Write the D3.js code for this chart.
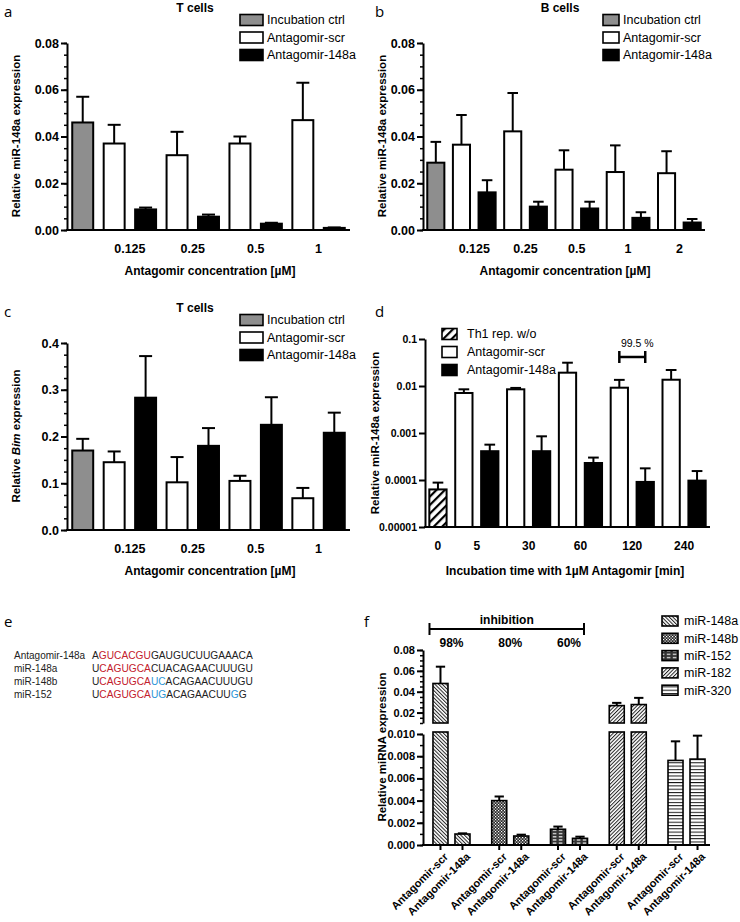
<!DOCTYPE html>
<html><head><meta charset="utf-8">
<script src="https://cdn.jsdelivr.net/npm/d3@7"></script>
<style>
body{margin:0;background:#fff;}
svg{display:block;font-family:"Liberation Sans",Arial,sans-serif;}
</style></head><body>
<svg id="chart" width="740" height="922"></svg>
<script>
// ---------- DATA ----------
const legendLabels = ["Incubation ctrl","Antagomir-scr","Antagomir-148a"];
const concT = ["0.125","0.25","0.5","1"];
const concB = ["0.125","0.25","0.5","1","2"];
// panel a (T cells, miR-148a)
const aCtrl = 0.046, aCtrlErr = 0.057;
const aScr = [0.037,0.032,0.037,0.047];
const aScrErr = [0.045,0.042,0.040,0.063];
const aAnt = [0.0088,0.0057,0.0027,0.0009];
const aAntErr = [0.0096,0.0066,0.0031,0.0011];
const abTicks = [0,0.02,0.04,0.06,0.08];
// panel b (B cells)
const bCtrl = 0.0288, bCtrlErr = 0.0377;
const bScr = [0.0365,0.0422,0.0258,0.0248,0.0243];
const bScrErr = [0.0492,0.0586,0.0341,0.0362,0.0337];
const bAnt = [0.0161,0.0100,0.0092,0.0052,0.0032];
const bAntErr = [0.0213,0.0121,0.0121,0.0076,0.0047];
// panel c (Bim)
const cCtrl = 0.17, cCtrlErr = 0.195;
const cScr = [0.145,0.102,0.105,0.068];
const cScrErr = [0.168,0.156,0.116,0.090];
const cAnt = [0.283,0.180,0.225,0.208];
const cAntErr = [0.372,0.218,0.284,0.251];
const cTicks = [0,0.1,0.2,0.3,0.4];
// panel d (time course, log)
const dLegend = ["Th1 rep. w/o","Antagomir-scr","Antagomir-148a"];
const dTimes = ["0","5","30","60","120","240"];
const dTh1 = 6.3e-5, dTh1Err = 8.8e-5;
const dScr = [0.0071,0.0085,0.0192,0.0092,0.0136];
const dScrErr = [0.0085,0.0091,0.0313,0.0135,0.0219];
const dAnt = [4.1e-4,4.1e-4,2.3e-4,9.1e-5,9.7e-5];
const dAntErr = [5.65e-4,8.5e-4,3.0e-4,1.77e-4,1.55e-4];
const dTicks = [0.00001,0.0001,0.001,0.01,0.1];
const dTickLabels = ["0.00001","0.0001","0.001","0.01","0.1"];
// panel e (sequences)
const eNames = ["Antagomir-148a","miR-148a","miR-148b","miR-152"];
const eSeqs = [
  [["A","k"],["GUCACGU","r"],["GAUGUCUUGAAACA","k"]],
  [["U","k"],["CAGUGCA","r"],["CUACAGAACUUUGU","k"]],
  [["U","k"],["CAGUGCA","r"],["UC","b"],["ACAGAACUUUGU","k"]],
  [["U","k"],["CAGUGCA","r"],["UG","b"],["ACAGAACUU","k"],["G","b"],["G","k"]]
];
// panel f (specificity, broken axis)
const fMirs = ["miR-148a","miR-148b","miR-152","miR-182","miR-320"];
const fTreat = ["Antagomir-scr","Antagomir-148a"];
const fScr = [0.0479,0.0040,0.00142,0.0267,0.00762];
const fScrErr = [0.064,0.00437,0.00166,0.0293,0.00934];
const fAnt = [0.00099,0.00081,0.00060,0.0277,0.00774];
const fAntErr = [0.00105,0.00093,0.00075,0.0341,0.00985];
const fInhib = ["98%","80%","60%"];
const fTicksLo = [0,0.002,0.004,0.006,0.008,0.010];
const fTicksHi = [0.02,0.04,0.06,0.08];

// ---------- DRAWING ----------
const svg = d3.select("#chart");
const defs = svg.append("defs");
const FONT = "Liberation Sans, Arial, sans-serif";
const GRAY = "#8e8e8e";

// patterns
function hatch(id, angle, gap, w, bg, fg){
  const p = defs.append("pattern").attr("id",id).attr("patternUnits","userSpaceOnUse")
    .attr("width",gap).attr("height",gap).attr("patternTransform",`rotate(${angle})`);
  p.append("rect").attr("width",gap).attr("height",gap).attr("fill",bg);
  p.append("rect").attr("width",w).attr("height",gap).attr("fill",fg);
}
hatch("pTh1",45,6,2.2,"#fff","#000");
hatch("p148a",-45,2.6,1,"#fff","#222");
hatch("p182",45,2.6,1,"#fff","#222");
(function(){
  const p = defs.append("pattern").attr("id","p148b").attr("patternUnits","userSpaceOnUse").attr("width",3).attr("height",3);
  p.append("rect").attr("width",3).attr("height",3).attr("fill","#2a2a2a");
  p.append("rect").attr("x",0).attr("y",0).attr("width",1.2).attr("height",1.2).attr("fill","#fff");
  p.append("rect").attr("x",1.5).attr("y",1.5).attr("width",1.2).attr("height",1.2).attr("fill","#fff");
  const q = defs.append("pattern").attr("id","p152").attr("patternUnits","userSpaceOnUse").attr("width",6).attr("height",3.2);
  q.append("rect").attr("width",6).attr("height",3.2).attr("fill","#333");
  q.append("rect").attr("x",0.8).attr("y",1).attr("width",3.6).attr("height",1.1).attr("fill","#fff");
  const r = defs.append("pattern").attr("id","p320").attr("patternUnits","userSpaceOnUse").attr("width",4).attr("height",3.3);
  r.append("rect").attr("width",4).attr("height",3.3).attr("fill","#fff");
  r.append("rect").attr("y",0).attr("width",4).attr("height",1).attr("fill","#111");
})();
const fPatterns = ["url(#p148a)","url(#p148b)","url(#p152)","url(#p182)","url(#p320)"];

function txt(x,y,s,opts={}){
  const t = svg.append("text").attr("x",x).attr("y",y).text(s)
    .attr("font-family",opts.family||FONT).attr("font-size",opts.size||12)
    .attr("font-weight",opts.weight||"normal").attr("text-anchor",opts.anchor||"middle")
    .attr("dy",opts.dy||"0.35em").attr("fill","#000");
  if(opts.rotate) t.attr("transform",`rotate(${opts.rotate},${x},${y})`);
  return t;
}
function panelLabel(x,y,s){ txt(x,y,s,{family:"Open Sans, DejaVu Sans, sans-serif",size:15,anchor:"start"}); }

function yAxis(y, x, major, fmt, minor, fs){
  const g = svg.append("g");
  if(minor){
    g.append("g").attr("transform",`translate(${x},0)`)
      .call(d3.axisLeft(y).tickValues(minor).tickSize(3).tickFormat(""))
      .call(s=>s.select(".domain").remove())
      .selectAll("line").attr("stroke","#000").attr("stroke-width",1.5);
  }
  const a = g.append("g").attr("transform",`translate(${x},0)`)
    .call(d3.axisLeft(y).tickValues(major).tickFormat(fmt).tickSize(6).tickSizeOuter(0).tickPadding(2));
  a.attr("font-family",FONT).attr("font-size",fs).attr("font-weight","bold");
  a.select(".domain").attr("stroke","#000").attr("stroke-width",2);
  a.selectAll(".tick line").attr("stroke","#000").attr("stroke-width",2);
  a.selectAll(".tick text").attr("fill","#000");
  return a;
}

function drawBar(x,w,y0,y1,fill,sw){
  svg.append("rect").attr("x",x).attr("y",Math.min(y0,y1)).attr("width",w).attr("height",Math.abs(y0-y1))
    .attr("fill",fill).attr("stroke","#000").attr("stroke-width",sw||2);
}
function drawErr(cx,yTop,yErr,cap){
  svg.append("line").attr("x1",cx).attr("x2",cx).attr("y1",yTop).attr("y2",yErr).attr("stroke","#000").attr("stroke-width",2);
  svg.append("line").attr("x1",cx-cap/2).attr("x2",cx+cap/2).attr("y1",yErr).attr("y2",yErr).attr("stroke","#000").attr("stroke-width",2);
}

function legend(x,y0,dy,sw,sh,fills,labels,tx){
  labels.forEach((l,i)=>{
    svg.append("rect").attr("x",x).attr("y",y0+i*dy-sh/2).attr("width",sw).attr("height",sh)
      .attr("fill",fills[i]).attr("stroke","#000").attr("stroke-width",1.6);
    txt(tx,y0+i*dy,l,{size:12.5,anchor:"start"});
  });
}

// generic grouped bar panel (a, b, c)
function barPanel(o){
  const bars = [{fill:GRAY,v:o.ctrl,e:o.ctrlErr}];
  o.labels.forEach((l,i)=>{
    bars.push({fill:"#fff",v:o.scr[i],e:o.scrErr[i]});
    bars.push({fill:"#000",v:o.ant[i],e:o.antErr[i]});
  });
  const x = d3.scaleBand().domain(d3.range(bars.length)).range([o.x0,o.x1]).paddingInner(1/3).paddingOuter(1/6);
  const y = d3.scaleLinear().domain(o.domain).range([o.yb,o.yt]);
  yAxis(y,o.x0,o.ticks,d3.format(o.fmt),d3.range(o.domain[0],o.domain[1]+1e-9,o.minor),o.fs);
  const bw = x.bandwidth();
  bars.forEach((b,i)=>{
    drawBar(x(i),bw,y(0),y(b.v),b.fill);
    drawErr(x(i)+bw/2,y(b.v),y(b.e),bw*0.62);
  });
  svg.append("line").attr("x1",o.x0-1).attr("x2",o.x1).attr("y1",y(0)).attr("y2",y(0)).attr("stroke","#000").attr("stroke-width",2);
  o.labels.forEach((l,i)=>{
    const cx = (x(1+2*i)+x(2+2*i)+bw)/2;
    txt(cx,o.yb+19,l,{size:o.fs,weight:"bold"});
  });
  txt(o.titleX,o.yb+41,"Antagomir concentration [µM]",{size:12,weight:"bold"});
  txt(o.cellX,o.cellY,o.cell,{size:12,weight:"bold"});
  legend(o.legX,o.legY,17.5,o.legW,11,[GRAY,"#fff","#000"],legendLabels,o.legX+o.legW+4);
  return {x,y};
}

// ---- panel a
panelLabel(4,12,"a");
barPanel({x0:67,x1:350,yb:230,yt:43,domain:[0,0.08],ticks:abTicks,fmt:".2f",minor:0.005,fs:12.5,
  ctrl:aCtrl,ctrlErr:aCtrlErr,scr:aScr,scrErr:aScrErr,ant:aAnt,antErr:aAntErr,labels:concT,
  titleX:210,cell:"T cells",cellX:195,cellY:8,legX:240,legY:20,legW:23});
txt(16,136,"Relative miR-148a expression",{size:11.5,weight:"bold",rotate:-90});

// ---- panel b
panelLabel(375,12,"b");
barPanel({x0:423,x1:705,yb:230,yt:43,domain:[0,0.08],ticks:abTicks,fmt:".2f",minor:0.005,fs:12.5,
  ctrl:bCtrl,ctrlErr:bCtrlErr,scr:bScr,scrErr:bScrErr,ant:bAnt,antErr:bAntErr,labels:concB,
  titleX:565,cell:"B cells",cellX:560,cellY:8,legX:603,legY:20,legW:16});
txt(382,136,"Relative miR-148a expression",{size:11.5,weight:"bold",rotate:-90});

// ---- panel c
panelLabel(4,312,"c");
barPanel({x0:67,x1:350,yb:530,yt:343,domain:[0,0.4],ticks:cTicks,fmt:".1f",minor:0.025,fs:12.5,
  ctrl:cCtrl,ctrlErr:cCtrlErr,scr:cScr,scrErr:cScrErr,ant:cAnt,antErr:cAntErr,labels:concT,
  titleX:210,cell:"T cells",cellX:195,cellY:308,legX:240,legY:320,legW:23});
(function(){
  const t = svg.append("text").attr("x",16).attr("y",436).attr("dy","0.35em")
    .attr("transform","rotate(-90,16,436)").attr("text-anchor","middle")
    .attr("font-family",FONT).attr("font-size",11.5).attr("font-weight","bold");
  t.append("tspan").text("Relative ");
  t.append("tspan").text("Bim").attr("font-style","italic");
  t.append("tspan").text(" expression");
})();

// ---- panel d
panelLabel(375,312,"d");
(function(){
  const bars = [{fill:"url(#pTh1)",v:dTh1,e:dTh1Err}];
  dScr.forEach((v,i)=>{
    bars.push({fill:"#fff",v:v,e:dScrErr[i]});
    bars.push({fill:"#000",v:dAnt[i],e:dAntErr[i]});
  });
  const x = d3.scaleBand().domain(d3.range(bars.length)).range([425,710]).paddingInner(1/3).paddingOuter(1/6);
  const y = d3.scaleLog().domain([1e-5,0.1]).range([527,339]);
  yAxis(y,425,dTicks,(d,i)=>dTickLabels[i],null,10.5);
  const bw = x.bandwidth();
  bars.forEach((b,i)=>{
    drawBar(x(i),bw,y(1e-5),y(b.v),b.fill);
    drawErr(x(i)+bw/2,y(b.v),y(b.e),bw*0.62);
  });
  svg.append("line").attr("x1",424).attr("x2",710).attr("y1",527).attr("y2",527).attr("stroke","#000").attr("stroke-width",2);
  dTimes.forEach((l,i)=>{
    const cx = i===0 ? x(0)+bw/2 : (x(2*i-1)+x(2*i)+bw)/2;
    txt(cx,546,l,{size:12,weight:"bold"});
  });
  txt(565,571,"Incubation time with 1µM Antagomir [min]",{size:12,weight:"bold"});
  legend(442,334,18,15,11,["url(#pTh1)","#fff","#000"],dLegend,467);
  // 99.5 % bracket over 120 min
  const bx0 = x(7)+bw/2, bx1 = x(8)+bw/2;
  svg.append("line").attr("x1",bx0).attr("x2",bx1).attr("y1",357).attr("y2",357).attr("stroke","#000").attr("stroke-width",2.5);
  [bx0,bx1].forEach(v=>svg.append("line").attr("x1",v).attr("x2",v).attr("y1",351).attr("y2",363).attr("stroke","#000").attr("stroke-width",2.5));
  txt((bx0+bx1)/2+5,343,"99.5 %",{size:10.5});
})();
txt(375,433,"Relative miR-148a expression",{size:11.5,weight:"bold",rotate:-90});

// ---- panel e
panelLabel(4,622,"e");
const eColors = {k:"#222",r:"#c3202c",b:"#2b95d6"};
eNames.forEach((n,i)=>{
  const yy = 655+i*13;
  txt(14,yy,n,{size:10,anchor:"start"}).attr("fill","#222");
  const t = svg.append("text").attr("x",92).attr("y",yy).attr("dy","0.35em").attr("font-family",FONT).attr("font-size",10.2);
  eSeqs[i].forEach(s=>t.append("tspan").text(s[0]).attr("fill",eColors[s[1]]));
});

// ---- panel f
panelLabel(364,622,"f");
(function(){
  const yLo = d3.scaleLinear().domain([0,0.010]).range([845,734]);
  const yHi = d3.scaleLinear().domain([0.01,0.08]).range([723,650]);
  const xg = d3.scaleBand().domain(fMirs).range([422.1,715.9]).padding(0);
  const xi = d3.scaleBand().domain(fTreat).range([0,xg.bandwidth()]).paddingInner(0.318).paddingOuter(0.494);
  yAxis(yLo,423,fTicksLo,d3.format(".3f"),d3.range(0,0.0101,0.001),11);
  yAxis(yHi,423,fTicksHi,d3.format(".2f"),d3.range(0.01,0.0801,0.005),11);
  const bw = xi.bandwidth();
  fMirs.forEach((m,gi)=>{
    [[fScr[gi],fScrErr[gi]],[fAnt[gi],fAntErr[gi]]].forEach((d,ti)=>{
      const bx = xg(m)+xi(fTreat[ti]);
      const cx = bx+bw/2;
      const v = d[0], e = d[1];
      if(v<=0.010){
        drawBar(bx,bw,yLo(0),yLo(v),fPatterns[gi],1.6);
        drawErr(cx,yLo(v),yLo(e),bw*0.62);
      } else {
        drawBar(bx,bw,yLo(0),yLo(0.010)-2,fPatterns[gi],1.6);
        drawBar(bx,bw,yHi(0.01),yHi(v),fPatterns[gi],1.6);
        drawErr(cx,yHi(v),yHi(e),bw*0.62);
      }
      svg.append("line").attr("x1",cx).attr("x2",cx).attr("y1",845).attr("y2",850).attr("stroke","#000").attr("stroke-width",2);
      txt(cx+3,852,fTreat[ti],{size:11,weight:"bold",anchor:"end",dy:"0.7em",rotate:-45});
    });
  });
  svg.append("line").attr("x1",422).attr("x2",710).attr("y1",845).attr("y2",845).attr("stroke","#000").attr("stroke-width",2);
  // inhibition bracket
  const c0 = xg(fMirs[0])+xg.bandwidth()/2, c2 = xg(fMirs[2])+xg.bandwidth()/2;
  const bx0 = c0-22, bx1 = c2+15;
  svg.append("line").attr("x1",bx0).attr("x2",bx1).attr("y1",629).attr("y2",629).attr("stroke","#000").attr("stroke-width",2);
  [bx0,bx1].forEach(v=>svg.append("line").attr("x1",v).attr("x2",v).attr("y1",623).attr("y2",635).attr("stroke","#000").attr("stroke-width",2));
  txt((bx0+bx1)/2,620,"inhibition",{size:12,weight:"bold"});
  fInhib.forEach((p,i)=>txt(xg(fMirs[i])+xg.bandwidth()/2,643,p,{size:12,weight:"bold"}));
  // legend
  fMirs.forEach((m,i)=>{
    const yy = 621+i*17.3;
    svg.append("rect").attr("x",662).attr("y",yy-5).attr("width",16).attr("height",10)
      .attr("fill",fPatterns[i]).attr("stroke","#000").attr("stroke-width",1.6);
    txt(684,yy,m,{size:12.5,anchor:"start"});
  });
})();
txt(382,747,"Relative miRNA expression",{size:11.5,weight:"bold",rotate:-90});
</script>
</body></html>
